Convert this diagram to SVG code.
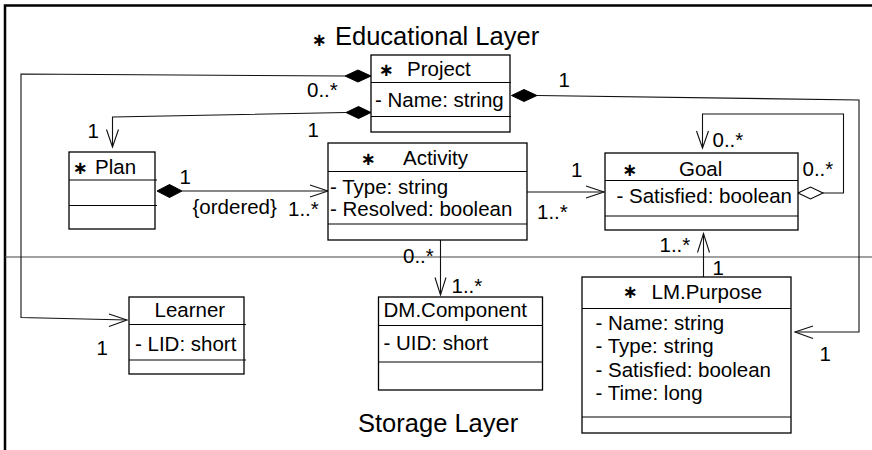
<svg xmlns="http://www.w3.org/2000/svg" width="872" height="450" viewBox="0 0 872 450">
  <style>
    text { font-family: "Liberation Sans", Arial, Helvetica, sans-serif; fill: #000; }
    .t { font-size: 20.5px; }
    .layer { font-size: 25.5px; }
    .star { font-family: "DejaVu Sans", sans-serif; font-size: 18px; font-weight: bold; text-anchor: middle; }
    .box { fill: #fff; stroke: #000; stroke-width: 1.3; }
    .sep { stroke: #000; stroke-width: 1.2; }
    .conn { fill: none; stroke: #111; stroke-width: 1.1; }
    .head { fill: none; stroke: #111; stroke-width: 1.1; }
    .dfill { fill: #000; stroke: #000; stroke-width: 1; }
    .dopen { fill: #fff; stroke: #000; stroke-width: 1.1; }
  </style>

  <rect width="872" height="450" fill="#fff"/>

  <!-- outer frame (top and left edges) -->
  <path d="M872 5.5 H5 V450" fill="none" stroke="#000" stroke-width="2.5"/>
  <!-- boundary between the two layers -->
  <line x1="5" y1="257" x2="872" y2="257" stroke="#444" stroke-width="1.1"/>

  <!-- layer captions -->
  <g id="educational-layer-label">
    <text class="star" x="319" y="45.5">∗</text>
    <text class="layer" x="335" y="45">Educational Layer</text>
  </g>
  <g id="storage-layer-label">
    <text class="layer" x="358" y="432">Storage Layer</text>
  </g>

  <!-- connectors -->
  <g id="connectors">
    <!-- Project <>-> Learner -->
    <path class="conn" d="M345 76 L21 74 L21 317.5 L127 320"/>
    <path class="head" d="M109 314 L127 320 L109 326.5"/>
    <polygon class="dfill" points="371,76 358,70 345,76 358,82"/>

    <!-- Project <>-> Plan -->
    <path class="conn" d="M346 112.5 L112.5 117 L112.5 147"/>
    <path class="head" d="M106.5 129.5 L112.5 147 L118.5 129.5"/>
    <polygon class="dfill" points="371,112.5 358.5,106.5 346,112.5 358.5,118.5"/>

    <!-- Plan <>-> Activity -->
    <path class="conn" d="M182 191 L328 191"/>
    <path class="head" d="M310 185 L328 191 L310 197"/>
    <polygon class="dfill" points="157,191 169.5,184.5 182,191 169.5,197.5"/>

    <!-- Activity -> Goal -->
    <path class="conn" d="M527 192 L604 192"/>
    <path class="head" d="M586 186 L604 192 L586 198"/>

    <!-- Goal <>-> Goal (self association) -->
    <path class="conn" d="M823 193 L843.5 193 L843.5 114 L702.5 114 L702.5 148"/>
    <path class="head" d="M696.5 131 L702.5 148 L708.5 131"/>
    <polygon class="dopen" points="798,193 810.5,187 823,193 810.5,199"/>

    <!-- Project <>-> LM.Purpose -->
    <path class="conn" d="M537 95.5 L859 100 L859 332 L795 332"/>
    <path class="head" d="M813 326 L795 332 L813 338.5"/>
    <polygon class="dfill" points="511.5,95.5 524,89.5 537,95.5 524,101.5"/>

    <!-- Activity -> DM.Component -->
    <path class="conn" d="M440.5 240 L440.5 295"/>
    <path class="head" d="M435 277.5 L440.5 295 L446 277.5"/>

    <!-- LM.Purpose -> Goal -->
    <path class="conn" d="M703.5 277 L703.5 233.5"/>
    <path class="head" d="M697.5 252.5 L703.5 233.5 L709.5 252.5"/>
  </g>

  <!-- multiplicities and constraints -->
  <g id="connector-labels">
    <text class="t" x="307" y="97">0..*</text>
    <text class="t" x="96.5" y="355">1</text>
    <text class="t" x="87.5" y="138">1</text>
    <text class="t" x="307.5" y="137">1</text>
    <text class="t" x="179.5" y="184">1</text>
    <text class="t" x="192.5" y="213.5">{ordered}</text>
    <text class="t" x="288" y="215.5">1..*</text>
    <text class="t" x="571" y="177">1</text>
    <text class="t" x="537" y="218.5">1..*</text>
    <text class="t" x="712.5" y="147">0..*</text>
    <text class="t" x="802.5" y="176">0..*</text>
    <text class="t" x="558.5" y="87">1</text>
    <text class="t" x="819.5" y="361">1</text>
    <text class="t" x="403" y="262.5">0..*</text>
    <text class="t" x="451.5" y="293">1..*</text>
    <text class="t" x="659.5" y="252">1..*</text>
    <text class="t" x="712.5" y="274.5">1</text>
  </g>

  <!-- classes -->
  <g id="project">
    <rect class="box" x="371" y="55" width="139" height="77"/>
    <line class="sep" x1="371" y1="82.5" x2="511" y2="82.5"/>
    <line class="sep" x1="371" y1="116.5" x2="511" y2="116.5"/>
    <text class="star" x="386" y="75.5">∗</text>
    <text class="t" x="407" y="75.5">Project</text>
    <text class="t" x="375" y="107">- Name: string</text>
  </g>

  <g id="plan">
    <rect class="box" x="69" y="152" width="86" height="77"/>
    <line class="sep" x1="69" y1="180" x2="157" y2="180"/>
    <line class="sep" x1="69" y1="205.5" x2="157" y2="205.5"/>
    <text class="star" x="80" y="173.5">∗</text>
    <text class="t" x="95" y="174">Plan</text>
  </g>

  <g id="activity">
    <rect class="box" x="328" y="143" width="199" height="97"/>
    <line class="sep" x1="328" y1="171.5" x2="527" y2="171.5"/>
    <line class="sep" x1="328" y1="224" x2="527" y2="224"/>
    <text class="star" x="368" y="165">∗</text>
    <text class="t" x="403" y="165">Activity</text>
    <text class="t" x="330" y="194">- Type: string</text>
    <text class="t" x="330" y="216">- Resolved: boolean</text>
  </g>

  <g id="goal">
    <rect class="box" x="605" y="153" width="193" height="77"/>
    <line class="sep" x1="605" y1="180.5" x2="798" y2="180.5"/>
    <line class="sep" x1="605" y1="216" x2="798" y2="216"/>
    <text class="star" x="629.5" y="176">∗</text>
    <text class="t" x="679" y="176">Goal</text>
    <text class="t" x="616.5" y="203">- Satisfied: boolean</text>
  </g>

  <g id="learner">
    <rect class="box" x="129" y="297" width="115" height="77"/>
    <line class="sep" x1="129" y1="324.5" x2="246" y2="324.5"/>
    <line class="sep" x1="129" y1="360" x2="246" y2="360"/>
    <text class="t" x="154.5" y="316.5">Learner</text>
    <text class="t" x="135" y="351">- LID: short</text>
  </g>

  <g id="dm-component">
    <rect class="box" x="378.5" y="297" width="164" height="93"/>
    <line class="sep" x1="378.5" y1="325.5" x2="542.5" y2="325.5"/>
    <line class="sep" x1="378.5" y1="362" x2="542.5" y2="362"/>
    <text class="t" x="383.5" y="316.5">DM.Component</text>
    <text class="t" x="383.5" y="350">- UID: short</text>
  </g>

  <g id="lm-purpose">
    <rect class="box" x="582" y="277" width="209" height="156"/>
    <line class="sep" x1="582" y1="308.5" x2="791" y2="308.5"/>
    <line class="sep" x1="582" y1="417" x2="791" y2="417"/>
    <text class="star" x="630" y="298">∗</text>
    <text class="t" x="651.5" y="298.5">LM.Purpose</text>
    <text class="t" x="595.5" y="330">- Name: string</text>
    <text class="t" x="595.5" y="353">- Type: string</text>
    <text class="t" x="595.5" y="376.5">- Satisfied: boolean</text>
    <text class="t" x="595.5" y="399.5">- Time: long</text>
  </g>
</svg>
